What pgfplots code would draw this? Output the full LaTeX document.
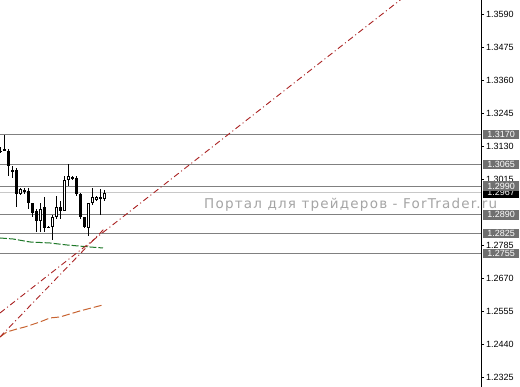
\documentclass[border=0pt]{standalone}
\usepackage{pgfplots}
\pgfplotsset{compat=1.18}
\usepackage{pgfplotstable}
\usepackage{fontspec}
\setmainfont{Liberation Sans}
\newfontfamily\lblfont{Liberation Sans}
\newfontfamily\wmfont[LetterSpace=9]{DejaVu Sans}

\definecolor{levelgray}{RGB}{112,112,112}
\definecolor{linegray}{RGB}{128,128,128}
\definecolor{bidgray}{RGB}{200,200,200}
\definecolor{trendred}{RGB}{170,35,35}
\definecolor{maorange}{RGB}{200,100,50}
\definecolor{magreen}{RGB}{30,120,40}
\definecolor{wmgray}{RGB}{165,165,165}

% bar index, open, high, low, close, hollow body flag
\pgfplotstableread{
k  O      H      L      C      h
0  1.3114 1.3128 1.3104 1.3111 0
1  1.3114 1.3167 1.3111 1.3121 0
2  1.3114 1.3121 1.3027 1.3062 0
3  1.3038 1.3062 1.3017 1.3045 0
4  1.3045 1.3052 1.2916 1.2964 0
5  1.2964 1.2985 1.2961 1.2982 1
6  1.2978 1.2985 1.2964 1.2971 0
7  1.2975 1.2982 1.2912 1.2930 0
8  1.2930 1.2933 1.2881 1.2898 0
9  1.2905 1.2909 1.2829 1.2870 0
10 1.2870 1.2930 1.2829 1.2912 1
11 1.2916 1.2954 1.2829 1.2846 0
12 1.2846 1.2853 1.2843 1.2849 0
13 1.2846 1.2888 1.2801 1.2881 1
14 1.2881 1.2957 1.2877 1.2916 1
15 1.2905 1.2940 1.2877 1.2916 0
16 1.2905 1.3027 1.2905 1.3010 1
17 1.3010 1.3069 1.2992 1.3027 1
18 1.3020 1.3024 1.3013 1.3017 0
19 1.3020 1.3024 1.2957 1.2964 0
20 1.2964 1.2968 1.2877 1.2881 0
21 1.2881 1.2884 1.2843 1.2846 0
22 1.2846 1.2930 1.2818 1.2930 1
23 1.2930 1.2985 1.2923 1.2954 1
24 1.2943 1.2957 1.2940 1.2954 1
25 1.2947 1.2982 1.2888 1.2954 0
26 1.2947 1.2975 1.2940 1.2967 1
}\candles

\pgfplotstableread{
x     y
0     1.2548
105   1.3693
}\trendA

\pgfplotstableread{
x     y
0     1.24644
26.25 1.28442
}\trendB

\pgfplotstableread{
x     y
0     1.28094
3.25  1.28059
7.5   1.27955
12.5  1.27920
16.75 1.27850
22.5  1.27780
25.75 1.27746
}\slowma

\pgfplotstableread{
x     y
0     1.24644
1.75  1.24819
4.25  1.24923
6.25  1.24993
10    1.25167
12.5  1.25307
15    1.25341
20    1.25551
25.75 1.25760
}\fastma

\begin{document}
\begin{tikzpicture}
\useasboundingbox (0,0) rectangle (520pt,387pt);
\fill[white] (0,0) rectangle (520pt,387pt);
% background watermark
\node[anchor=west, text=wmgray, inner sep=0pt, font=\wmfont\fontsize{13.5}{13.5}\selectfont]
  at (204pt,182pt) {Портал для трейдеров - ForTrader.ru};

\begin{axis}[
  at={(0pt,0pt)}, anchor=south west,
  scale only axis, width=481pt, height=387pt,
  xmin=0, xmax=120.25, ymin=1.2290, ymax=1.3639,
  hide x axis,
  axis y line*=right,
  y axis line style={black, line width=1pt},
  clip mode=individual,
  ytick={1.2325,1.2440,1.2555,1.2670,1.2785,1.3015,1.3130,1.3245,1.3360,1.3475,1.3590},
  yticklabels={1.2325,1.2440,1.2555,1.2670,1.2785,1.3015,1.3130,1.3245,1.3360,1.3475,1.3590},
  tick align=outside, major tick length=3pt,
  tick style={black, line width=0.8pt},
  yticklabel style={font=\lblfont\fontsize{9}{9}\selectfont, inner sep=0pt, xshift=2pt, text=black},
]

% support / resistance levels
\addplot[linegray, line width=1pt, forget plot] coordinates {(0,1.3170) (120.25,1.3170)};
\addplot[linegray, line width=1pt, forget plot] coordinates {(0,1.3065) (120.25,1.3065)};
\addplot[linegray, line width=1pt, forget plot] coordinates {(0,1.2990) (120.25,1.2990)};
\addplot[linegray, line width=1pt, forget plot] coordinates {(0,1.2890) (120.25,1.2890)};
\addplot[linegray, line width=1pt, forget plot] coordinates {(0,1.2825) (120.25,1.2825)};
\addplot[linegray, line width=1pt, forget plot] coordinates {(0,1.2755) (120.25,1.2755)};
% bid line
\addplot[bidgray, line width=0.8pt, forget plot] coordinates {(0,1.2967) (120.25,1.2967)};

% moving averages
\addplot[magreen, line width=1pt, dash pattern=on 7pt off 2pt] table {\slowma};
\addplot[maorange, line width=1pt, dash pattern=on 8pt off 3pt] table {\fastma};

% trend lines
\addplot[trendred, line width=0.9pt, dash pattern=on 6pt off 3pt on 1pt off 3pt] table {\trendA};
\addplot[trendred, line width=0.9pt, dash pattern=on 6pt off 3pt on 1pt off 3pt] table {\trendB};

% wicks
\addplot[draw=none, mark=none, forget plot,
  error bars/.cd, y dir=both, y explicit, error mark=none,
  error bar style={draw=black, line width=1pt}]
  table[x=k, y expr=(\thisrow{H}+\thisrow{L})/2, y error expr=(\thisrow{H}-\thisrow{L})/2] {\candles};
% bodies
\addplot[draw=none, mark=none, forget plot,
  error bars/.cd, y dir=both, y explicit, error mark=none,
  error bar style={draw=black, line width=3pt}]
  table[x=k, y expr=(\thisrow{O}+\thisrow{C})/2, y error expr={max(abs(\thisrow{C}-\thisrow{O})/2,0.00018)}] {\candles};
% hollow interiors of rising bars
\addplot[draw=none, mark=none, forget plot,
  restrict expr to domain={\thisrow{h}}{0.5:1.5},
  error bars/.cd, y dir=both, y explicit, error mark=none,
  error bar style={draw=white, line width=1pt}]
  table[x=k, y expr=(\thisrow{O}+\thisrow{C})/2, y error expr={abs(\thisrow{C}-\thisrow{O})/2-0.00035}] {\candles};

% price tags on the right scale
\begin{scope}[every node/.style={anchor=west, inner sep=0pt, minimum width=36pt,
    minimum height=9.5pt, text=white, font=\lblfont\fontsize{9}{9}\selectfont, xshift=2pt}]
\node[fill=black] at (axis cs:120.25,1.2967) {1.2967};
\node[fill=levelgray] at (axis cs:120.25,1.3170) {1.3170};
\node[fill=levelgray] at (axis cs:120.25,1.3065) {1.3065};
\node[fill=levelgray] at (axis cs:120.25,1.2990) {1.2990};
\node[fill=levelgray] at (axis cs:120.25,1.2890) {1.2890};
\node[fill=levelgray] at (axis cs:120.25,1.2825) {1.2825};
\node[fill=levelgray] at (axis cs:120.25,1.2755) {1.2755};
\end{scope}
\end{axis}
\end{tikzpicture}
\end{document}
